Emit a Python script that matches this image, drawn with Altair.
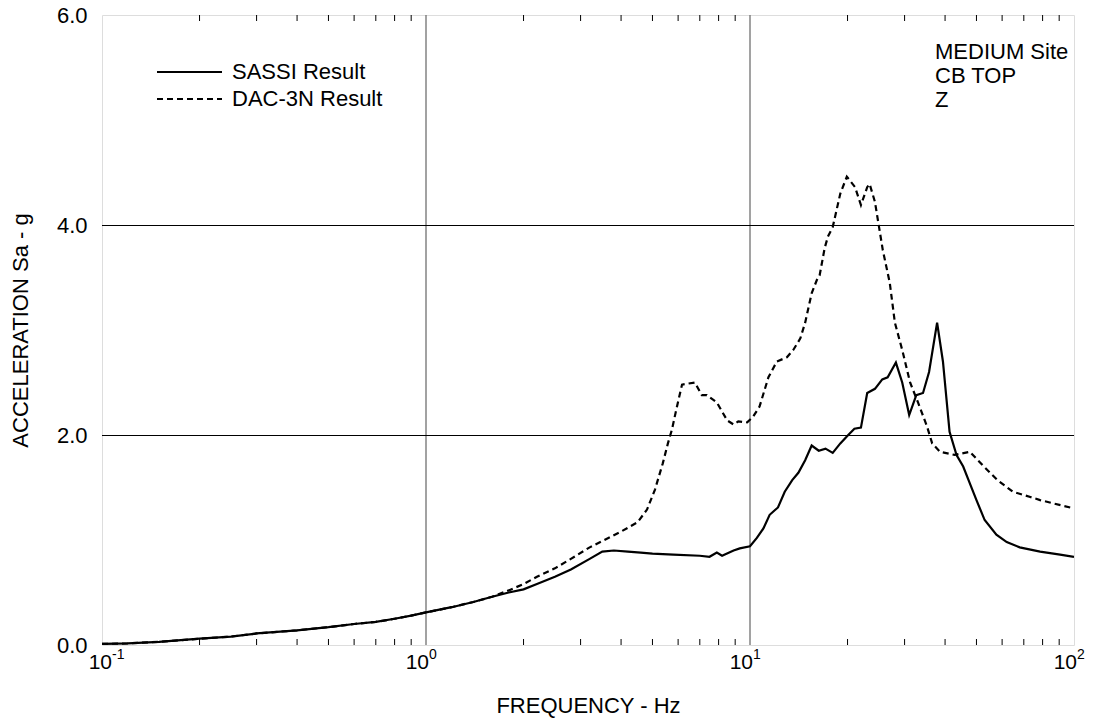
import altair as alt
import pandas as pd

# ---- data ----
sassi_freq = [0.1, 0.12, 0.15, 0.2, 0.25, 0.3, 0.4, 0.5, 0.6, 0.7, 0.8, 0.9, 1.0, 1.2, 1.4, 1.6,
              1.8, 2.0, 2.2, 2.5, 2.8, 3.2, 3.5, 3.8, 4.2, 4.6, 5.0, 5.8, 7.0, 7.5, 7.9, 8.2,
              8.9, 9.3, 10.0, 10.5, 11.0, 11.5, 12.2, 12.8, 13.5, 14.1, 14.8, 15.5, 16.3, 17.1,
              18.0, 19.0, 20.1, 21.0, 22.0, 23.0, 24.3, 25.6, 26.6, 28.2, 29.5, 31.0, 32.6, 34.2,
              35.7, 37.8, 39.4, 41.3, 43.4, 45.5, 47.7, 50.0, 53.0, 57.6, 62.0, 68.0, 78.6, 90.6, 100.0]
sassi_acc = [0.01, 0.015, 0.03, 0.06, 0.08, 0.11, 0.14, 0.17, 0.20, 0.22, 0.25, 0.28, 0.31, 0.36, 0.41, 0.46,
             0.50, 0.53, 0.58, 0.65, 0.72, 0.82, 0.89, 0.90, 0.89, 0.88, 0.87, 0.86, 0.85, 0.84, 0.88, 0.85,
             0.90, 0.92, 0.94, 1.02, 1.11, 1.24, 1.31, 1.46, 1.57, 1.64, 1.76, 1.90, 1.85, 1.87,
             1.83, 1.92, 2.00, 2.06, 2.07, 2.40, 2.44, 2.53, 2.55, 2.69, 2.50, 2.19, 2.38, 2.40,
             2.60, 3.07, 2.70, 2.03, 1.81, 1.70, 1.54, 1.38, 1.19, 1.05, 0.98, 0.93, 0.89, 0.86, 0.84]

dac_freq = [0.1, 0.12, 0.15, 0.2, 0.25, 0.3, 0.4, 0.5, 0.6, 0.7, 0.8, 0.9, 1.0, 1.2, 1.4, 1.6,
            1.8, 2.0, 2.2, 2.5, 2.8, 3.2, 3.5, 4.0, 4.5, 4.81, 5.09, 5.38, 5.58, 5.74, 5.95, 6.17,
            6.76, 7.1, 7.36, 7.9, 8.5, 8.9, 9.2, 9.8, 10.2, 10.7, 11.4, 12.1, 13.0, 13.6, 14.3,
            14.8, 15.5, 16.1, 16.4, 17.0, 17.4, 18.0, 19.0, 19.9, 21.1, 22.0, 23.0, 23.4, 24.3,
            25.7, 27.0, 28.0, 29.5, 31.2, 33.0, 35.2, 36.5, 38.6, 42.8, 47.7, 52.3, 58.1, 64.7,
            73.3, 78.6, 100.0]
dac_acc = [0.01, 0.015, 0.03, 0.06, 0.08, 0.11, 0.14, 0.17, 0.20, 0.22, 0.25, 0.28, 0.31, 0.36, 0.41, 0.46,
           0.52, 0.58, 0.65, 0.73, 0.82, 0.93, 0.99, 1.08, 1.17, 1.29, 1.48, 1.73, 1.92, 2.05, 2.27, 2.48,
           2.50, 2.38, 2.38, 2.31, 2.14, 2.10, 2.13, 2.12, 2.17, 2.27, 2.55, 2.70, 2.74, 2.81, 2.92,
           3.07, 3.35, 3.48, 3.52, 3.78, 3.89, 3.98, 4.30, 4.46, 4.36, 4.19, 4.36, 4.39, 4.22,
           3.76, 3.45, 3.07, 2.81, 2.50, 2.31, 2.08, 1.92, 1.84, 1.81, 1.84, 1.71, 1.57, 1.46,
           1.41, 1.38, 1.30]

x_decades = [0.1, 1, 10, 100]
x_base = ["10", "10", "10", "10"]
x_exponents = ["-1", "0", "1", "2"]
x_grid = [1, 10]
y_grid = [2, 4]
y_ticks = [0, 2, 4, 6]
minor_ticks = [0.2, 0.3, 0.4, 0.5, 0.6, 0.7, 0.8, 0.9,
               2, 3, 4, 5, 6, 7, 8, 9,
               20, 30, 40, 50, 60, 70, 80, 90]
legend_labels = ["SASSI Result", "DAC-3N Result"]
notes = ["MEDIUM Site", "CB TOP", "Z"]

# ---- layout ----
W, H = 972, 630
FONT = "Liberation Sans"
FS = 22
xs = alt.Scale(type="log", domain=[0.1, 100], nice=False)
ys = alt.Scale(domain=[0, 6], nice=False)

xaxis = alt.Axis(
    labels=False, ticks=False, domain=False, grid=False,
    title="FREQUENCY - Hz", titleFont=FONT, titleFontSize=FS, titleFontWeight="normal",
    titleColor="black", titlePadding=50)
yaxis = alt.Axis(
    values=y_ticks, format=".1f", ticks=False, domain=False, grid=False,
    labelFont=FONT, labelFontSize=FS, labelColor="black", labelPadding=15,
    title="ACCELERATION Sa - g", titleFont=FONT, titleFontSize=FS,
    titleFontWeight="normal", titleColor="black", titlePadding=24)


def X(field="f"):
    return alt.X(f"{field}:Q", scale=xs, axis=xaxis, title="FREQUENCY - Hz")


def Y(field="a"):
    return alt.Y(f"{field}:Q", scale=ys, axis=yaxis, title="ACCELERATION Sa - g")


sassi_df = pd.DataFrame({"f": sassi_freq, "a": sassi_acc})
dac_df = pd.DataFrame({"f": dac_freq, "a": dac_acc})

sassi = alt.Chart(sassi_df).mark_line(color="black", strokeWidth=2.2, clip=True).encode(x=X(), y=Y())
dac = alt.Chart(dac_df).mark_line(color="black", strokeWidth=2.2, strokeDash=[6, 4], clip=True).encode(x=X(), y=Y())

vgrid = alt.Chart(pd.DataFrame({"f": x_grid})).mark_rule(color="#707070", strokeWidth=1.3).encode(x=X())
hgrid = alt.Chart(pd.DataFrame({"a": y_grid})).mark_rule(color="black", strokeWidth=1, yOffset=0.5).encode(y=Y())

ticks_df = pd.DataFrame({"f": minor_ticks})
bottom_ticks = alt.Chart(ticks_df).mark_rule(color="black", strokeWidth=1).encode(
    x=X(), y=alt.value(H), y2=alt.value(H - 6))
top_ticks = alt.Chart(ticks_df).mark_rule(color="black", strokeWidth=1).encode(
    x=X(), y=alt.value(0), y2=alt.value(6))

lab_df = pd.DataFrame({"f": x_decades, "base": x_base, "exp": x_exponents})
label_layers = []
for part, shift in ((lab_df.iloc[:1], 7), (lab_df.iloc[1:], 0)):
    label_layers.append(alt.Chart(part).mark_text(
        align="right", baseline="alphabetic", font=FONT, fontSize=21, color="black", dx=3 + shift
    ).encode(x=X(), y=alt.value(H + 24), text="base:N"))
    label_layers.append(alt.Chart(part).mark_text(
        align="left", baseline="alphabetic", font=FONT, fontSize=14, color="black", dx=3 + shift
    ).encode(x=X(), y=alt.value(H + 14), text="exp:N"))

leg_y = [57, 84]
legend_layers = []
for i, lab in enumerate(legend_labels):
    kw = dict(color="black", strokeWidth=2.2)
    if i == 1:
        kw["strokeDash"] = [6, 4]
    legend_layers.append(
        alt.Chart(pd.DataFrame({"label": [lab]})).mark_rule(**kw).encode(
            x=alt.value(55), x2=alt.value(120), y=alt.value(leg_y[i])))
    legend_layers.append(
        alt.Chart(pd.DataFrame({"label": [lab]})).mark_text(
            align="left", baseline="middle", font=FONT, fontSize=FS, color="black"
        ).encode(x=alt.value(130), y=alt.value(leg_y[i]), text="label:N"))

note_layers = []
for i, t in enumerate(notes):
    note_layers.append(
        alt.Chart(pd.DataFrame({"t": [t]})).mark_text(
            align="left", baseline="middle", font=FONT, fontSize=FS, color="black"
        ).encode(x=alt.value(833), y=alt.value(37 + 24 * i), text="t:N"))

chart = alt.layer(
    vgrid, hgrid, bottom_ticks, top_ticks, *label_layers,
    *legend_layers, *note_layers, dac, sassi
).properties(
    width=W, height=H,
    autosize=alt.AutoSizeParams(type="none"),
    padding={"left": 102, "top": 15, "right": 25, "bottom": 78},
).configure_view(stroke="black", strokeWidth=1.5).configure(background="white")

chart.save("out.html", embed_options={"renderer": "svg", "actions": False})
